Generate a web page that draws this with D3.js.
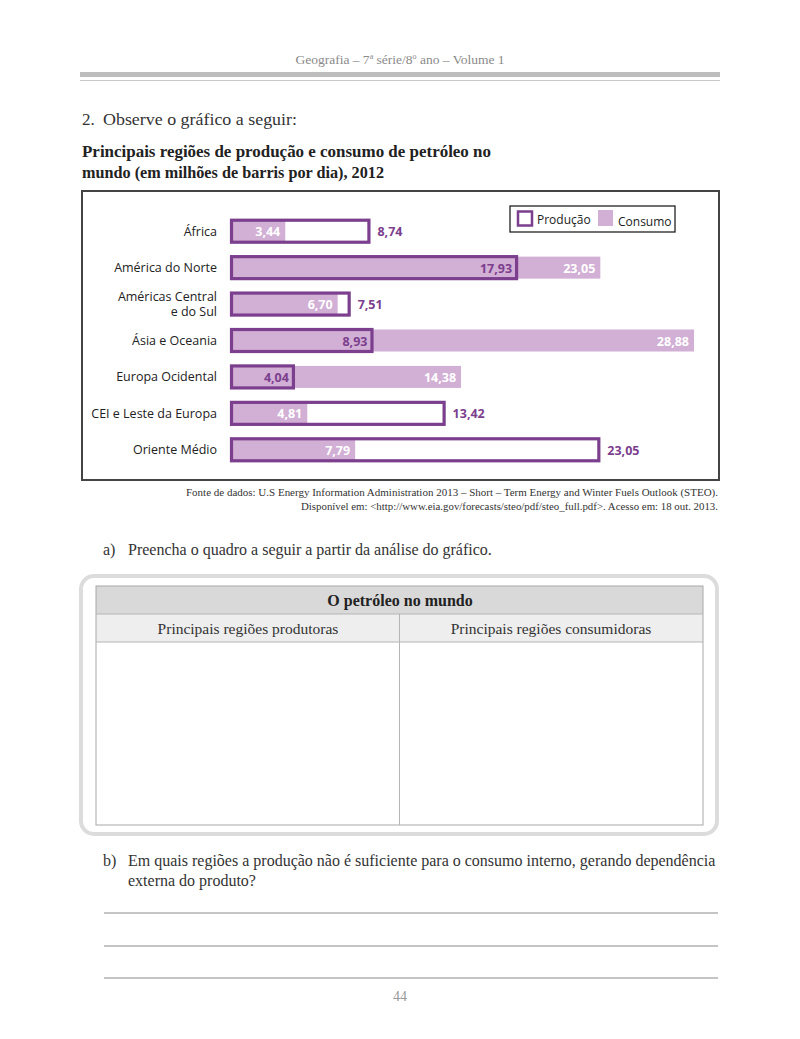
<!DOCTYPE html>
<html>
<head>
<meta charset="utf-8">
<script src="https://cdn.jsdelivr.net/npm/d3@7"></script>
<style>
  body { margin: 0; background: #fff; }
  .serif { font-family: "Liberation Serif", "DejaVu Serif", serif; }
  .sans { font-family: "Open Sans", "Noto Sans", sans-serif; }
</style>
</head>
<body>
<div id="page"></div>
<script>
// data (milhões de barris por dia, 2012)
var regions = ["África", "América do Norte", "Américas Central|e do Sul", "Ásia e Oceania",
  "Europa Ocidental", "CEI e Leste da Europa", "Oriente Médio"];
var producao = [8.74, 17.93, 7.51, 8.93, 4.04, 13.42, 23.05];
var consumo = [3.44, 23.05, 6.70, 28.88, 14.38, 4.81, 7.79];

var rows = regions.map(function(r, i) {
  return { region: r, prod: producao[i], cons: consumo[i] };
});

var fmt = function(v) { return v.toFixed(2).replace(".", ","); };

var purple = "#7b3f8e";
var lilac = "#d2afd5";

var svg = d3.select("#page").append("svg")
  .attr("width", 800)
  .attr("height", 1039);

// header
svg.append("text").attr("class", "serif")
  .attr("x", 400).attr("y", 64).attr("text-anchor", "middle")
  .attr("font-size", 13.5).attr("fill", "#8a8a8a")
  .html("Geografia – 7<tspan font-size='8' dy='-5'>a</tspan><tspan dy='5'> série/8</tspan><tspan font-size='8' dy='-5'>o</tspan><tspan dy='5'> ano – Volume 1</tspan>");
svg.append("rect").attr("x", 80).attr("y", 72).attr("width", 640).attr("height", 5).attr("fill", "#bdbdbd");
svg.append("rect").attr("x", 80).attr("y", 80).attr("width", 640).attr("height", 1).attr("fill", "#c8c8c8");

svg.append("text").attr("class", "serif")
  .attr("x", 82).attr("y", 125).attr("font-size", 17).attr("fill", "#333")
  .text("2.");
svg.append("text").attr("class", "serif")
  .attr("x", 103).attr("y", 125).attr("font-size", 17).attr("fill", "#333")
  .attr("textLength", 194).attr("lengthAdjust", "spacingAndGlyphs")
  .text("Observe o gráfico a seguir:");

var title = svg.append("text").attr("class", "serif")
  .attr("font-size", 16.5).attr("font-weight", "bold").attr("fill", "#222")
  .attr("lengthAdjust", "spacingAndGlyphs");
title.append("tspan").attr("x", 82).attr("y", 157).attr("textLength", 409)
  .attr("lengthAdjust", "spacingAndGlyphs")
  .text("Principais regiões de produção e consumo de petróleo no");
title.append("tspan").attr("x", 82).attr("y", 178).attr("textLength", 302)
  .attr("lengthAdjust", "spacingAndGlyphs")
  .text("mundo (em milhões de barris por dia), 2012");

// chart frame
svg.append("rect")
  .attr("x", 82).attr("y", 191).attr("width", 637).attr("height", 289)
  .attr("fill", "#fff").attr("stroke", "#444").attr("stroke-width", 2);

var x = d3.scaleLinear().domain([0, 30]).range([230, 712]);
var y = d3.scaleBand().domain(regions).range([213, 468]);
var bh = 22;

var chart = svg.append("g");

// category labels
chart.selectAll(".cat")
  .data(rows)
  .enter()
  .append("text")
  .attr("class", "sans")
  .attr("text-anchor", "end")
  .attr("font-size", 12.5)
  .attr("fill", "#222")
  .each(function(d) {
    var parts = d.region.split("|");
    var cy = y(d.region) + y.bandwidth() / 2;
    var t = d3.select(this);
    parts.forEach(function(p, k) {
      t.append("tspan")
        .attr("x", 217)
        .attr("y", cy + 4.5 + (k - (parts.length - 1) / 2) * 15)
        .text(p);
    });
  });

// consumo (filled)
chart.selectAll(".cons")
  .data(rows)
  .enter()
  .append("rect")
  .attr("x", x(0))
  .attr("y", d => y(d.region) + y.bandwidth() / 2 - bh / 2)
  .attr("width", d => x(d.cons) - x(0))
  .attr("height", bh)
  .attr("fill", lilac);

// produção (outline)
chart.selectAll(".prod")
  .data(rows)
  .enter()
  .append("rect")
  .attr("x", x(0) + 1.5)
  .attr("y", d => y(d.region) + y.bandwidth() / 2 - bh / 2)
  .attr("width", d => x(d.prod) - x(0) - 3)
  .attr("height", bh)
  .attr("fill", "none")
  .attr("stroke", purple)
  .attr("stroke-width", 3.2);

// consumo labels
chart.selectAll(".consLbl")
  .data(rows)
  .enter()
  .append("text")
  .attr("class", "sans")
  .attr("x", d => x(d.cons) - 5)
  .attr("y", d => y(d.region) + y.bandwidth() / 2 + 5)
  .attr("text-anchor", "end")
  .attr("font-size", 12.5)
  .attr("font-weight", "bold")
  .attr("fill", "#fff")
  .text(d => fmt(d.cons));

// produção labels
chart.selectAll(".prodLbl")
  .data(rows)
  .enter()
  .append("text")
  .attr("class", "sans")
  .attr("x", d => d.prod > d.cons ? x(d.prod) + 7 : x(d.prod) - 6)
  .attr("y", d => y(d.region) + y.bandwidth() / 2 + 5)
  .attr("text-anchor", d => d.prod > d.cons ? "start" : "end")
  .attr("font-size", 12.5)
  .attr("font-weight", "bold")
  .attr("fill", purple)
  .text(d => fmt(d.prod));

// legend
var lg = svg.append("g");
lg.append("rect").attr("x", 510).attr("y", 206).attr("width", 165).attr("height", 26)
  .attr("fill", "#fff").attr("stroke", "#222").attr("stroke-width", 1.3);
lg.append("rect").attr("x", 518).attr("y", 211.5).attr("width", 14).attr("height", 14)
  .attr("fill", "none").attr("stroke", purple).attr("stroke-width", 2.5);
lg.append("text").attr("class", "sans").attr("x", 537).attr("y", 224)
  .attr("font-size", 12).attr("fill", "#222").text("Produção");
lg.append("rect").attr("x", 598).attr("y", 210).attr("width", 15).attr("height", 16)
  .attr("fill", lilac);
lg.append("text").attr("class", "sans").attr("x", 618).attr("y", 226)
  .attr("font-size", 12).attr("fill", "#222").text("Consumo");

// source
var src = svg.append("text").attr("class", "serif")
  .attr("font-size", 10.5).attr("fill", "#333").attr("text-anchor", "end");
src.append("tspan").attr("x", 718).attr("y", 496)
  .attr("textLength", 532).attr("lengthAdjust", "spacingAndGlyphs")
  .text("Fonte de dados: U.S Energy Information Administration 2013 – Short – Term Energy and Winter Fuels Outlook (STEO).");
src.append("tspan").attr("x", 718).attr("y", 510)
  .attr("textLength", 417).attr("lengthAdjust", "spacingAndGlyphs")
  .text("Disponível em: <http://www.eia.gov/forecasts/steo/pdf/steo_full.pdf>. Acesso em: 18 out. 2013.");

// question a
svg.append("text").attr("class", "serif").attr("x", 103).attr("y", 555)
  .attr("font-size", 16).attr("fill", "#333").text("a)");
svg.append("text").attr("class", "serif").attr("x", 128).attr("y", 555)
  .attr("font-size", 16).attr("fill", "#333").text("Preencha o quadro a seguir a partir da análise do gráfico.");

// table frame
svg.append("rect").attr("x", 81).attr("y", 576).attr("width", 636).attr("height", 258)
  .attr("rx", 13).attr("fill", "none").attr("stroke", "#dcdcdc").attr("stroke-width", 4);
svg.append("rect").attr("x", 96).attr("y", 586).attr("width", 607).attr("height", 28).attr("fill", "#d9d9d9");
svg.append("rect").attr("x", 96).attr("y", 614).attr("width", 607).attr("height", 28).attr("fill", "#eeeeee");
svg.append("rect").attr("x", 96).attr("y", 586).attr("width", 607).attr("height", 239)
  .attr("fill", "none").attr("stroke", "#a8a8a8").attr("stroke-width", 1);
svg.append("line").attr("x1", 96).attr("x2", 703).attr("y1", 614).attr("y2", 614).attr("stroke", "#b5b5b5");
svg.append("line").attr("x1", 96).attr("x2", 703).attr("y1", 642).attr("y2", 642).attr("stroke", "#b5b5b5");
svg.append("line").attr("x1", 399.5).attr("x2", 399.5).attr("y1", 614).attr("y2", 825).attr("stroke", "#b5b5b5");
svg.append("text").attr("class", "serif").attr("x", 400).attr("y", 606).attr("text-anchor", "middle")
  .attr("font-size", 16).attr("font-weight", "bold").attr("fill", "#222").text("O petróleo no mundo");
svg.append("text").attr("class", "serif").attr("x", 248).attr("y", 634).attr("text-anchor", "middle")
  .attr("font-size", 15.5).attr("fill", "#333").text("Principais regiões produtoras");
svg.append("text").attr("class", "serif").attr("x", 551).attr("y", 634).attr("text-anchor", "middle")
  .attr("font-size", 15.5).attr("fill", "#333").text("Principais regiões consumidoras");

// question b
svg.append("text").attr("class", "serif").attr("x", 103).attr("y", 866)
  .attr("font-size", 16).attr("fill", "#333").text("b)");
var qb = svg.append("text").attr("class", "serif").attr("font-size", 16).attr("fill", "#333");
qb.append("tspan").attr("x", 128).attr("y", 866)
  .text("Em quais regiões a produção não é suficiente para o consumo interno, gerando dependência");
qb.append("tspan").attr("x", 128).attr("y", 886).text("externa do produto?");

[913, 946, 978].forEach(function(ly) {
  svg.append("line").attr("x1", 104).attr("x2", 718).attr("y1", ly).attr("y2", ly)
    .attr("stroke", "#8a8a8a").attr("stroke-width", 1);
});

svg.append("text").attr("class", "serif").attr("x", 400).attr("y", 1001).attr("text-anchor", "middle")
  .attr("font-size", 14).attr("fill", "#999").text("44");
</script>
</body>
</html>
